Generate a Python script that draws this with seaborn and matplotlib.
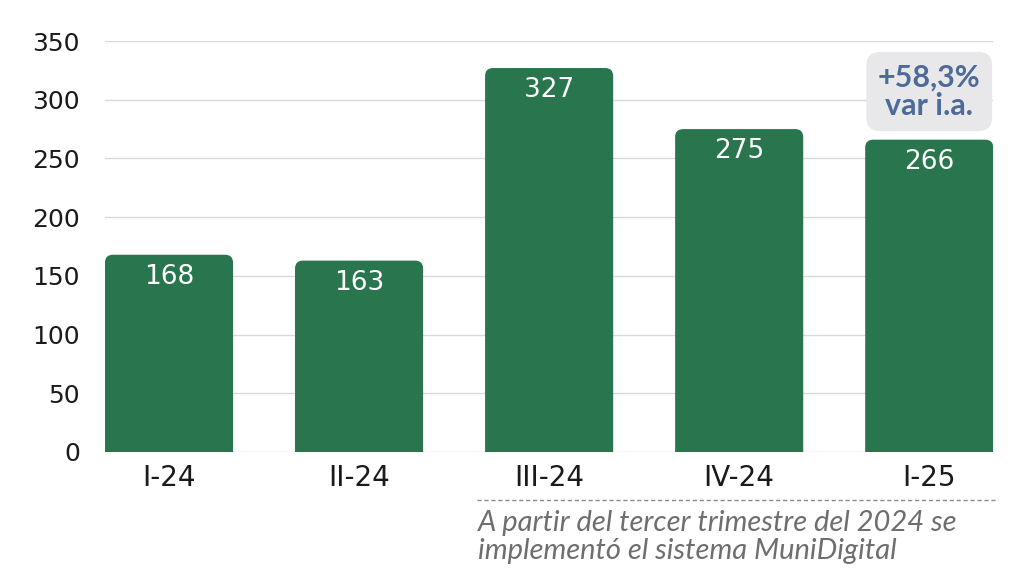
import numpy as np
import pandas as pd
import seaborn as sns
from matplotlib import pyplot as plt
from matplotlib.patches import FancyBboxPatch
from matplotlib.lines import Line2D

# data
quarters = ['I-24', 'II-24', 'III-24', 'IV-24', 'I-25']
values = [168, 163, 327, 275, 266]
yoy_label = '+58,3%\nvar i.a.'
note = 'A partir del tercer trimestre del 2024 se\nimplementó el sistema MuniDigital'

df = pd.DataFrame({'Trimestre': quarters, 'Valor': values})

bar_color = '#28754e'

sns.set_style('white')
plt.rcParams['font.family'] = ['DejaVu Sans']

fig = plt.figure(figsize=(10.24, 5.78), dpi=100)
ax = fig.add_axes([0.1025, 0.218, 0.8675, 0.711])

sns.barplot(x='Trimestre', y='Valor', data=df, color=bar_color,
            width=0.674, saturation=1, ax=ax)

ax.set_xlim(-0.337, 4.337)
ax.set_ylim(0, 350)
ax.set_yticks(np.arange(0, 351, 50))

# swap the square bars for ones with rounded tops
r_x = 0.042
aspect = 162
for p in list(ax.patches):
    x0, w, h = p.get_x(), p.get_width(), p.get_height()
    fb = FancyBboxPatch((x0, -10), w, h + 10,
                        boxstyle='round,pad=0,rounding_size=%f' % r_x,
                        mutation_aspect=aspect,
                        facecolor=bar_color, edgecolor='none', zorder=3)
    p.remove()
    ax.add_patch(fb)

for i, v in enumerate(values):
    ax.text(i, v - 19, str(v), ha='center', va='center',
            color='white', fontsize=19, zorder=4)

# year-on-year box above last bar
ax.text(4, 307, yoy_label, ha='center', va='center', fontsize=22,
        fontweight='bold', family=['Lato', 'DejaVu Sans'], color='#4d6a99',
        linespacing=1.0, zorder=5,
        bbox=dict(boxstyle='round,pad=0.38,rounding_size=0.45',
                  facecolor='#e8e8eb', edgecolor='none'))

ax.grid(axis='y', color='#d9d9d9', linewidth=1)
ax.set_axisbelow(True)
for s in ax.spines.values():
    s.set_visible(False)

ax.set_xlabel('')
ax.set_ylabel('')
ax.tick_params(axis='y', labelsize=18, pad=18, length=0, labelcolor='#1a1a1a')
ax.tick_params(axis='x', labelsize=20, pad=9, length=0, labelcolor='#1a1a1a')

# dashed separator and footnote
fig.add_artist(Line2D([0.466, 0.975], [0.135, 0.135], transform=fig.transFigure,
                      color='#8a8a8a', linestyle=(0, (3, 2)), linewidth=1))
fig.text(0.467, 0.118, note, ha='left', va='top', fontsize=21,
         style='italic', family=['Lato', 'DejaVu Sans'], color='#6e6e6e',
         linespacing=1.1)

plt.savefig('out.png', dpi=100)
